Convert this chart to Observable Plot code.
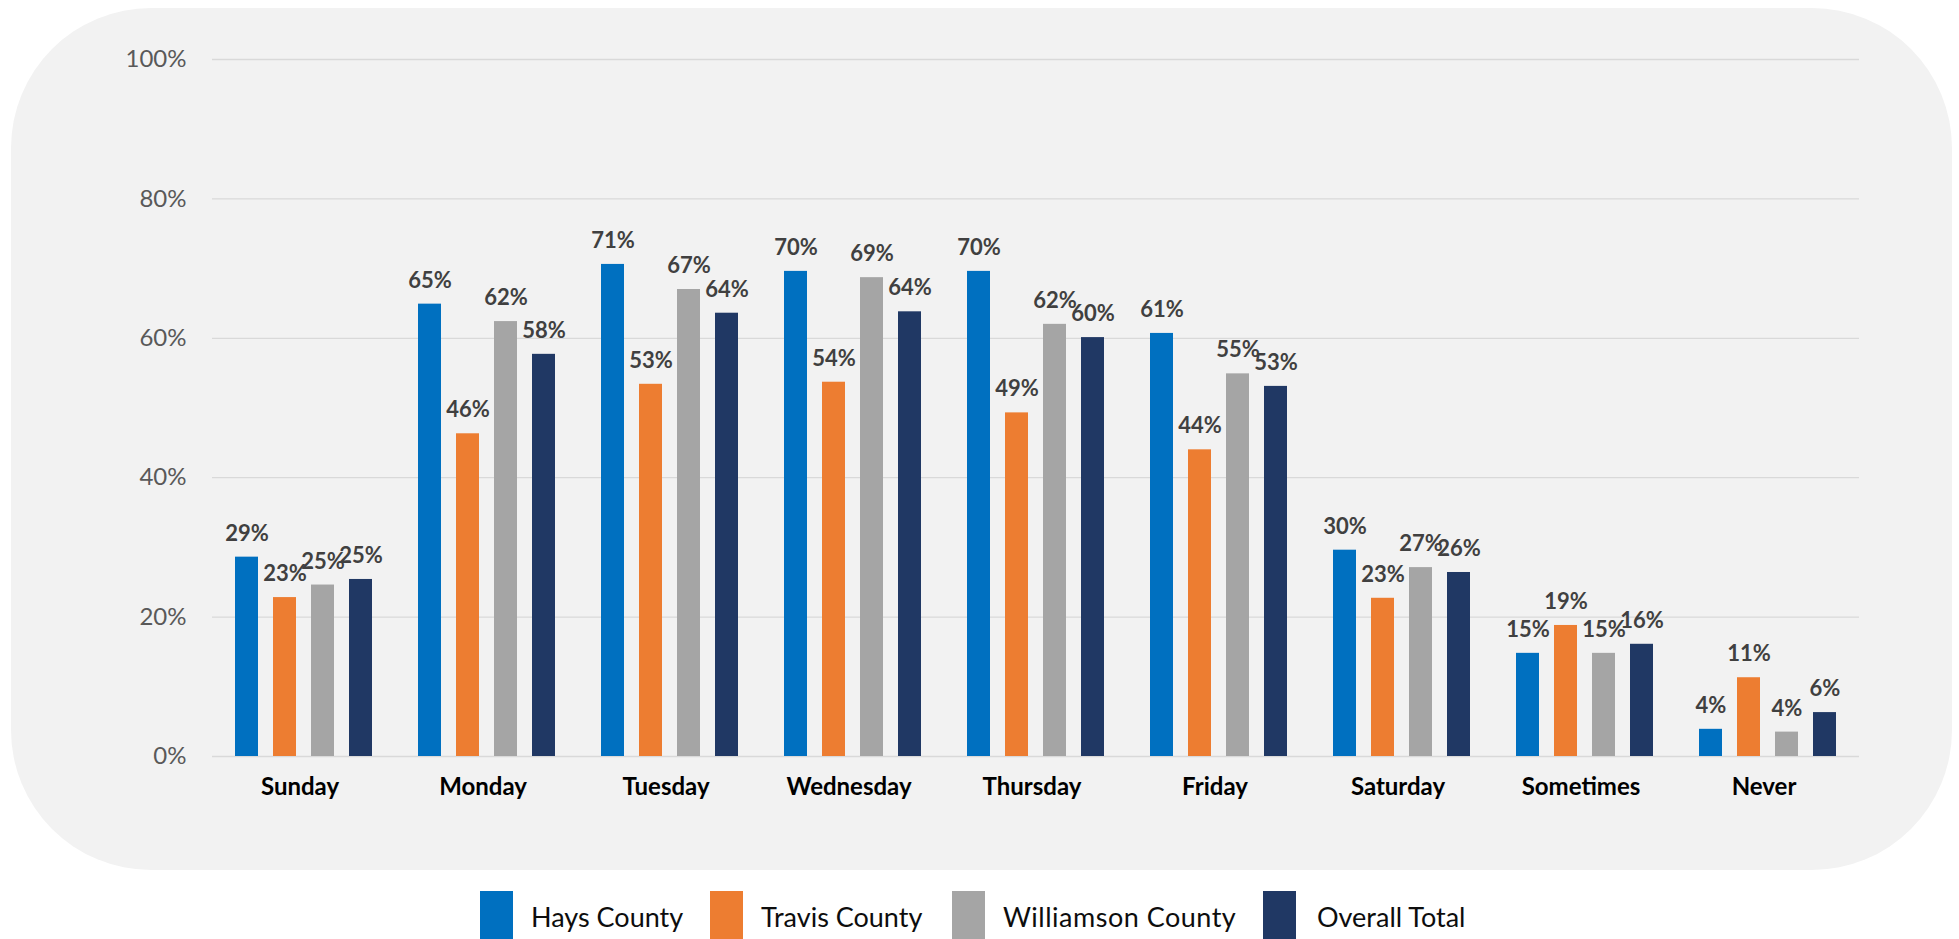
<!DOCTYPE html>
<html>
<head>
<meta charset="utf-8">
<script src="https://cdn.jsdelivr.net/npm/d3@7"></script>
<script src="https://cdn.jsdelivr.net/npm/@observablehq/plot@0.6"></script>
<style>
  html, body { margin: 0; padding: 0; background: #ffffff; }
  body { width: 1959px; height: 939px; overflow: hidden; position: relative; font-family: Lato, "Open Sans", sans-serif; }
  #panel { position: absolute; left: 11px; top: 8px; width: 1941px; height: 862px; background: #f2f2f2; border-radius: 140px; }
  #chart { position: absolute; left: 0; top: 0; }
  #chart svg { background: transparent !important; }
  #legend { position: absolute; left: 0; top: 891px; width: 1959px; height: 48px; }
  .item { position: absolute; top: 0; display: flex; align-items: flex-start; }
  .item:nth-child(1) { left: 480px; }
  .item:nth-child(2) { left: 710px; }
  .item:nth-child(3) { left: 952px; }
  .item:nth-child(4) { left: 1263px; }
  .sw { width: 33px; height: 50px; margin-right: 18px; }
  .item:nth-child(4) .sw { margin-right: 21px; }
  .lab { font-family: Lato, sans-serif; font-size: 27px; color: #0d0d0d; line-height: 1; margin-top: 12px; white-space: nowrap; }
  .item:nth-child(3) .lab { letter-spacing: 0.5px; }
</style>
</head>
<body>
<div id="panel"></div>
<div id="chart"></div>
<div id="legend"></div>
<script>
const categories = ["Sunday", "Monday", "Tuesday", "Wednesday", "Thursday", "Friday", "Saturday", "Sometimes", "Never"];
const seriesNames = ["Hays County", "Travis County", "Williamson County", "Overall Total"];
const hays       = [28.6, 64.9, 70.6, 69.6, 69.6, 60.7, 29.6, 14.8, 3.9];
const travis     = [22.8, 46.3, 53.4, 53.7, 49.3, 44.0, 22.7, 18.8, 11.3];
const williamson = [24.6, 62.4, 67.0, 68.7, 62.0, 54.9, 27.1, 14.8, 3.5];
const overall    = [25.4, 57.7, 63.6, 63.8, 60.1, 53.1, 26.4, 16.1, 6.3];
const yTicks = [0, 20, 40, 60, 80, 100];
const colors = ["#0070c0", "#ed7d31", "#a5a5a5", "#203864"];

const seriesValues = [hays, travis, williamson, overall];
const rows = [];
categories.forEach((c, i) => {
  seriesNames.forEach((s, j) => {
    rows.push({category: c, series: s, value: seriesValues[j][i]});
  });
});

const chart = Plot.plot({
  width: 1959,
  height: 880,
  marginLeft: 211,
  marginRight: 99,
  marginTop: 59,
  marginBottom: 124,
  style: {fontFamily: "Lato, 'Open Sans', sans-serif", background: "transparent"},
  fx: {domain: categories, padding: 0, label: null},
  x: {domain: seriesNames, paddingInner: 0.4, paddingOuter: 0.55, axis: null},
  y: {domain: [0, 100], label: null},
  color: {domain: seriesNames, range: colors},
  marks: [
    Plot.gridY(yTicks, {stroke: "#d9d9d9", strokeOpacity: 1, strokeWidth: 1.3}),
    Plot.axisY(yTicks, {tickSize: 0, tickPadding: 26, tickFormat: d => d + "%", fontSize: 24, fill: "#595959", label: null}),
    Plot.axisFx({anchor: "bottom", tickSize: 0, tickPadding: 21, dx: -4, fontSize: 24, fontWeight: "bold", fill: "#000000", label: null}),
    Plot.barY(rows, {fx: "category", x: "series", y: "value", fill: "series"}),
    Plot.text(rows, {fx: "category", x: "series", y: "value", text: d => Math.round(d.value) + "%", dy: -23.5, fontSize: 22, fontWeight: "bold", fill: "#404040"})
  ]
});
document.getElementById("chart").appendChild(chart);

const legend = document.getElementById("legend");
seriesNames.forEach((s, j) => {
  const item = document.createElement("div");
  item.className = "item";
  const sw = document.createElement("div");
  sw.className = "sw";
  sw.style.background = colors[j];
  const lab = document.createElement("div");
  lab.className = "lab";
  lab.textContent = s;
  item.appendChild(sw);
  item.appendChild(lab);
  legend.appendChild(item);
});
</script>
</body>
</html>
